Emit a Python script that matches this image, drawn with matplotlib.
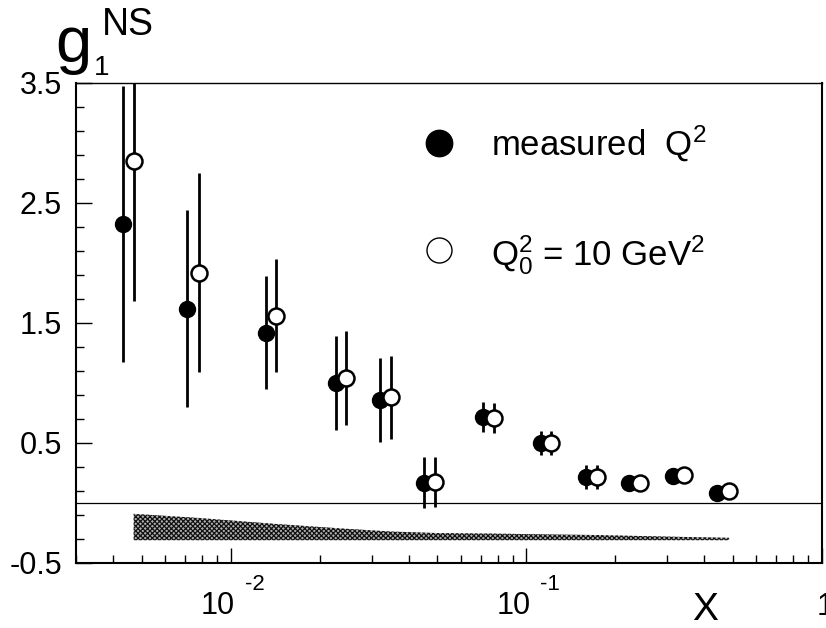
import numpy as np
import matplotlib
matplotlib.use("Agg")
import matplotlib.pyplot as plt
from matplotlib.ticker import FixedLocator, FixedFormatter, NullFormatter
from matplotlib.transforms import blended_transform_factory, offset_copy

plt.rcParams['font.family'] = ['Liberation Sans', 'DejaVu Sans']
plt.rcParams['mathtext.fontset'] = 'custom'
plt.rcParams['mathtext.rm'] = 'Liberation Sans'
plt.rcParams['mathtext.it'] = 'Liberation Sans'
plt.rcParams['axes.unicode_minus'] = False
plt.rcParams['hatch.linewidth'] = 0.9

# ---- data ----
x_meas = [0.00433, 0.00714, 0.01313, 0.02264, 0.0321, 0.0452, 0.0716, 0.1121, 0.159, 0.223, 0.314, 0.443]
g_meas = [2.325, 1.62, 1.42, 1.00, 0.86, 0.17, 0.72, 0.50, 0.22, 0.17, 0.225, 0.08]
e_meas = [1.15, 0.82, 0.47, 0.39, 0.35, 0.21, 0.125, 0.10, 0.10, 0.03, 0.03, 0.03]

x_q0 = [0.0047, 0.00782, 0.01429, 0.02465, 0.035, 0.0493, 0.078, 0.1214, 0.174, 0.242, 0.342, 0.485]
g_q0 = [2.85, 1.92, 1.56, 1.04, 0.88, 0.175, 0.71, 0.50, 0.22, 0.17, 0.233, 0.10]
e_q0 = [1.17, 0.83, 0.47, 0.39, 0.345, 0.21, 0.125, 0.10, 0.10, 0.03, 0.03, 0.03]

band_top = [-0.09, -0.125, -0.175, -0.215, -0.238, -0.25, -0.255, -0.262, -0.267, -0.275, -0.283, -0.29]
band_bottom = [-0.31] * 12

xtick_vals = [0.01, 0.1]
xtick_base = ['10', '10']
xtick_exp = ['-2', '-1']
xtick_last_val = 1.0
xtick_last_label = '1'
ytick_vals = [-0.5, 0.5, 1.5, 2.5, 3.5]
ytick_labels = ['-0.5', '0.5', '1.5', '2.5', '3.5']

W, H = 826, 628
fig = plt.figure(figsize=(W / 100, H / 100), dpi=100)
ax = fig.add_axes([76 / W, 1 - 563 / H, (822 - 76) / W, (563 - 83) / H])
ax.set_xscale('log')
ax.set_xlim(0.003, 1.0)
ax.set_ylim(-0.5, 3.5)

# zero line
ax.axhline(0, color='black', lw=0.9, zorder=1)

# systematic band
ax.fill_between(x_q0, band_bottom, band_top, facecolor='#b0b0b0', edgecolor='#111111',
                hatch='xxxxxxx', linewidth=0.0, zorder=2)

# data
ax.errorbar(x_meas, g_meas, yerr=e_meas, fmt='o', color='black', ms=11.5,
             elinewidth=2.0, capsize=0, zorder=4)
ax.errorbar(x_q0, g_q0, yerr=e_q0, fmt='o', color='black', mfc='white', mec='black',
             mew=1.8, ms=11.5, elinewidth=2.0, capsize=0, zorder=5)

# ticks
ax.xaxis.set_major_locator(FixedLocator(xtick_vals + [xtick_last_val]))
ax.xaxis.set_major_formatter(NullFormatter())
minor_x = [m * 10.0 ** e for e in (-3, -2, -1) for m in range(2, 10)]
ax.xaxis.set_minor_locator(FixedLocator(minor_x))
ax.xaxis.set_minor_formatter(NullFormatter())
ax.yaxis.set_major_locator(FixedLocator(ytick_vals))
ax.yaxis.set_major_formatter(FixedFormatter(ytick_labels))
ax.yaxis.set_minor_locator(FixedLocator(list(np.arange(-0.5, 3.51, 0.2))))

ax.tick_params(axis='both', which='both', direction='in', top=False, right=False,
               labelsize=22, width=1.0)
ax.tick_params(axis='x', which='major', length=11)
ax.tick_params(axis='x', which='minor', length=5.5)
ax.tick_params(axis='y', which='major', length=11.5, pad=10)
ax.tick_params(axis='y', which='minor', length=5.8)
for s in ax.spines.values():
    s.set_linewidth(1.5)
ax.spines['top'].set_linewidth(1.0)

# x tick labels (ROOT style: base + raised exponent)
tr = blended_transform_factory(ax.transData, fig.transFigure)
for v, b, e in zip(xtick_vals, xtick_base, xtick_exp):
    ax.text(v, 1 - 614 / H, b, fontsize=22, ha='right', va='baseline',
            transform=offset_copy(tr, fig=fig, x=4, y=0, units='dots'))
    ax.text(v, 1 - 590 / H, e, fontsize=16, ha='left', va='baseline',
            transform=offset_copy(tr, fig=fig, x=14, y=0, units='dots'))
ax.text(xtick_last_val, 1 - 615 / H, xtick_last_label, fontsize=22, ha='center', va='baseline',
        transform=offset_copy(tr, fig=fig, x=3, y=0, units='dots'))

# legend (manual)
fig.lines.append(plt.Line2D([439 / W], [1 - 143 / H], transform=fig.transFigure,
                            marker='o', ms=19, color='black', ls='none'))
fig.lines.append(plt.Line2D([439 / W], [1 - 250 / H], transform=fig.transFigure,
                            marker='o', ms=18, mfc='white', mec='black', mew=1.0, ls='none'))
fig.text(491 / W, 1 - 156 / H, r'measured  Q$\mathregular{^2}$', fontsize=25,
         va='baseline', ha='left')
fig.text(491 / W, 1 - 265 / H, r'$\mathregular{Q_0^2}$ = 10 GeV$\mathregular{^2}$', fontsize=25,
         va='baseline', ha='left')

# axis titles
fig.text(55 / W, 1 - 62 / H, 'g', fontsize=47, va='baseline', ha='left')
fig.text(94 / W, 1 - 75 / H, '1', fontsize=20, va='baseline', ha='left')
fig.text(102 / W, 1 - 35 / H, 'NS', fontsize=27, va='baseline', ha='left')
fig.text(705 / W, 1 - 620 / H, 'X', fontsize=28, va='baseline', ha='center')

fig.savefig('out.png', dpi=100)
